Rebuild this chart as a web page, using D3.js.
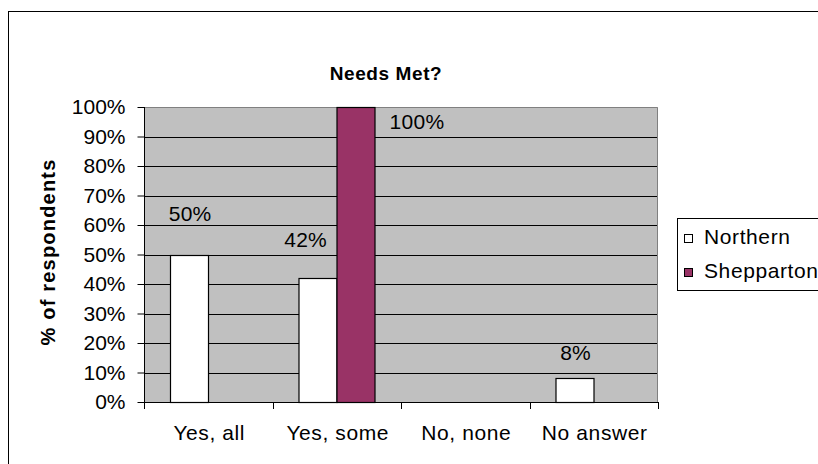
<!DOCTYPE html>
<html>
<head>
<meta charset="utf-8">
<script src="https://cdn.jsdelivr.net/npm/d3@7"></script>
<style>
  html, body { margin: 0; padding: 0; background: #fff; }
  svg { display: block; font-family: "Liberation Sans", Arial, sans-serif; }
</style>
</head>
<body>
<svg id="chart" width="818" height="464"></svg>
<script>
// Survey answers to "Needs Met?" by region
const categories = ["Yes, all", "Yes, some", "No, none", "No answer"];
const seriesNames = ["Northern", "Shepparton"];
const northern = [50, 42, 0, 8];
const shepparton = [0, 100, 0, 0];
const yTicks = [0, 10, 20, 30, 40, 50, 60, 70, 80, 90, 100];
const seriesColors = ["#ffffff", "#993366"];

const FONT = 21;
const SPACING = 0.3;
const svg = d3.select("#chart");
const plot = { left: 144, right: 658, top: 107, bottom: 402 };

// Frame around the whole chart
svg.append("rect")
  .attr("x", 8.5).attr("y", 11.5)
  .attr("width", 900).attr("height", 600)
  .attr("fill", "#fff").attr("stroke", "#000").attr("stroke-width", 1);

const x0 = d3.scaleBand().domain(categories).range([plot.left, plot.right]).paddingInner(0).paddingOuter(0);
const x1 = d3.scaleBand().domain(seriesNames).range([26, x0.bandwidth() - 26]);
const y = d3.scaleLinear().domain([0, 100]).range([plot.bottom, plot.top]);

// Plot background
svg.append("rect")
  .attr("x", plot.left).attr("y", plot.top)
  .attr("width", plot.right - plot.left).attr("height", plot.bottom - plot.top)
  .attr("fill", "#c0c0c0");

// Gridlines
svg.append("g")
  .selectAll("line")
  .data(yTicks.filter(d => d > 0 && d < 100))
  .join("line")
  .attr("x1", plot.left).attr("x2", plot.right)
  .attr("y1", d => Math.round(y(d)) + 0.5).attr("y2", d => Math.round(y(d)) + 0.5)
  .attr("stroke", "#000").attr("stroke-width", 1);

// Top and right edges of the plot area
svg.append("path")
  .attr("d", `M${plot.left},${plot.top + 0.5}H${plot.right - 0.5}V${plot.bottom}`)
  .attr("fill", "none").attr("stroke", "#808080").attr("stroke-width", 1);

// Bars
const rows = categories.map((c, i) => ({ cat: c, values: [northern[i], shepparton[i]] }));
const groups = svg.append("g").selectAll("g")
  .data(rows).join("g")
  .attr("transform", d => `translate(${x0(d.cat)},0)`);

groups.selectAll("rect")
  .data(d => d.values.map((v, j) => ({ name: seriesNames[j], value: v, color: seriesColors[j] })).filter(d => d.value > 0))
  .join("rect")
  .attr("x", d => Math.round(x1(d.name)) + 0.5)
  .attr("y", d => Math.round(y(d.value)) + 0.5)
  .attr("width", Math.round(x1.bandwidth()))
  .attr("height", d => Math.round(y(0)) - Math.round(y(d.value)))
  .attr("fill", d => d.color)
  .attr("stroke", "#000").attr("stroke-width", 1.2);

// Value labels: above each bar, nudged aside when a taller neighbour sits to the right,
// and beside the bar when it reaches the top of the plot
groups.selectAll("text")
  .data(d => d.values.map((v, j) => ({
    name: seriesNames[j], value: v,
    tallerNext: j + 1 < d.values.length && d.values[j + 1] > v
  })).filter(d => d.value > 0))
  .join("text")
  .attr("x", d => {
    const cx = x1(d.name) + x1.bandwidth() / 2;
    if (d.value >= 100) return x1(d.name) + x1.bandwidth() + 42;
    return d.tallerNext ? cx - 12 : cx + 1;
  })
  .attr("y", d => d.value >= 100 ? y(d.value) + 22 : y(d.value) - (16 + 0.35 * d.value))
  .attr("text-anchor", "middle")
  .attr("font-size", FONT)
  .attr("letter-spacing", SPACING)
  .attr("fill", "#000")
  .text(d => d.value + "%");

// Y axis
const yAxis = d3.axisLeft(y).tickValues(yTicks).tickSize(7).tickPadding(12).tickFormat(d => d + "%");
const gy = svg.append("g").attr("transform", `translate(${plot.left + 0.5},0)`).call(yAxis);
gy.select(".domain").attr("d", `M0,${plot.top}V${plot.bottom}`).attr("stroke", "#000");
gy.selectAll(".tick line").attr("stroke", "#000");
gy.selectAll(".tick text").attr("font-size", FONT).attr("fill", "#000")
  .attr("font-family", "Liberation Sans, Arial, sans-serif");

// X axis
const xTickPos = categories.map(c => x0(c)).concat([plot.right]);
const gx = svg.append("g");
gx.append("line")
  .attr("x1", plot.left).attr("x2", plot.right)
  .attr("y1", plot.bottom + 0.5).attr("y2", plot.bottom + 0.5)
  .attr("stroke", "#000");
gx.selectAll("line.tick")
  .data(xTickPos).join("line").attr("class", "tick")
  .attr("x1", d => Math.round(d) + 0.5).attr("x2", d => Math.round(d) + 0.5)
  .attr("y1", plot.bottom).attr("y2", plot.bottom + 7)
  .attr("stroke", "#000");
gx.selectAll("text")
  .data(categories).join("text")
  .attr("x", d => x0(d) + x0.bandwidth() / 2 + 1)
  .attr("y", 440)
  .attr("text-anchor", "middle")
  .attr("font-size", FONT)
  .attr("letter-spacing", SPACING + 0.3)
  .text(d => d);

// Title
svg.append("text")
  .attr("x", 386).attr("y", 80)
  .attr("text-anchor", "middle")
  .attr("font-size", 19).attr("font-weight", "bold")
  .attr("letter-spacing", 0.6)
  .text("Needs Met?");

// Y axis title
svg.append("text")
  .attr("transform", "translate(55,252) rotate(-90)")
  .attr("text-anchor", "middle")
  .attr("font-size", 20).attr("font-weight", "bold")
  .attr("letter-spacing", 1.2)
  .text("% of respondents");

// Legend
const legend = svg.append("g");
legend.append("rect")
  .attr("x", 677.5).attr("y", 218.5)
  .attr("width", 200).attr("height", 72)
  .attr("fill", "#fff").attr("stroke", "#000");
const items = legend.selectAll("g.item")
  .data(seriesNames).join("g").attr("class", "item")
  .attr("transform", (d, i) => `translate(0,${i * 34})`);
items.append("rect")
  .attr("x", 684.5).attr("y", 234.5)
  .attr("width", 8).attr("height", 8)
  .attr("fill", (d, i) => seriesColors[i]).attr("stroke", "#000");
items.append("text")
  .attr("x", 704).attr("y", 244)
  .attr("font-size", FONT)
  .attr("letter-spacing", 0.6)
  .text(d => d);
</script>
</body>
</html>
